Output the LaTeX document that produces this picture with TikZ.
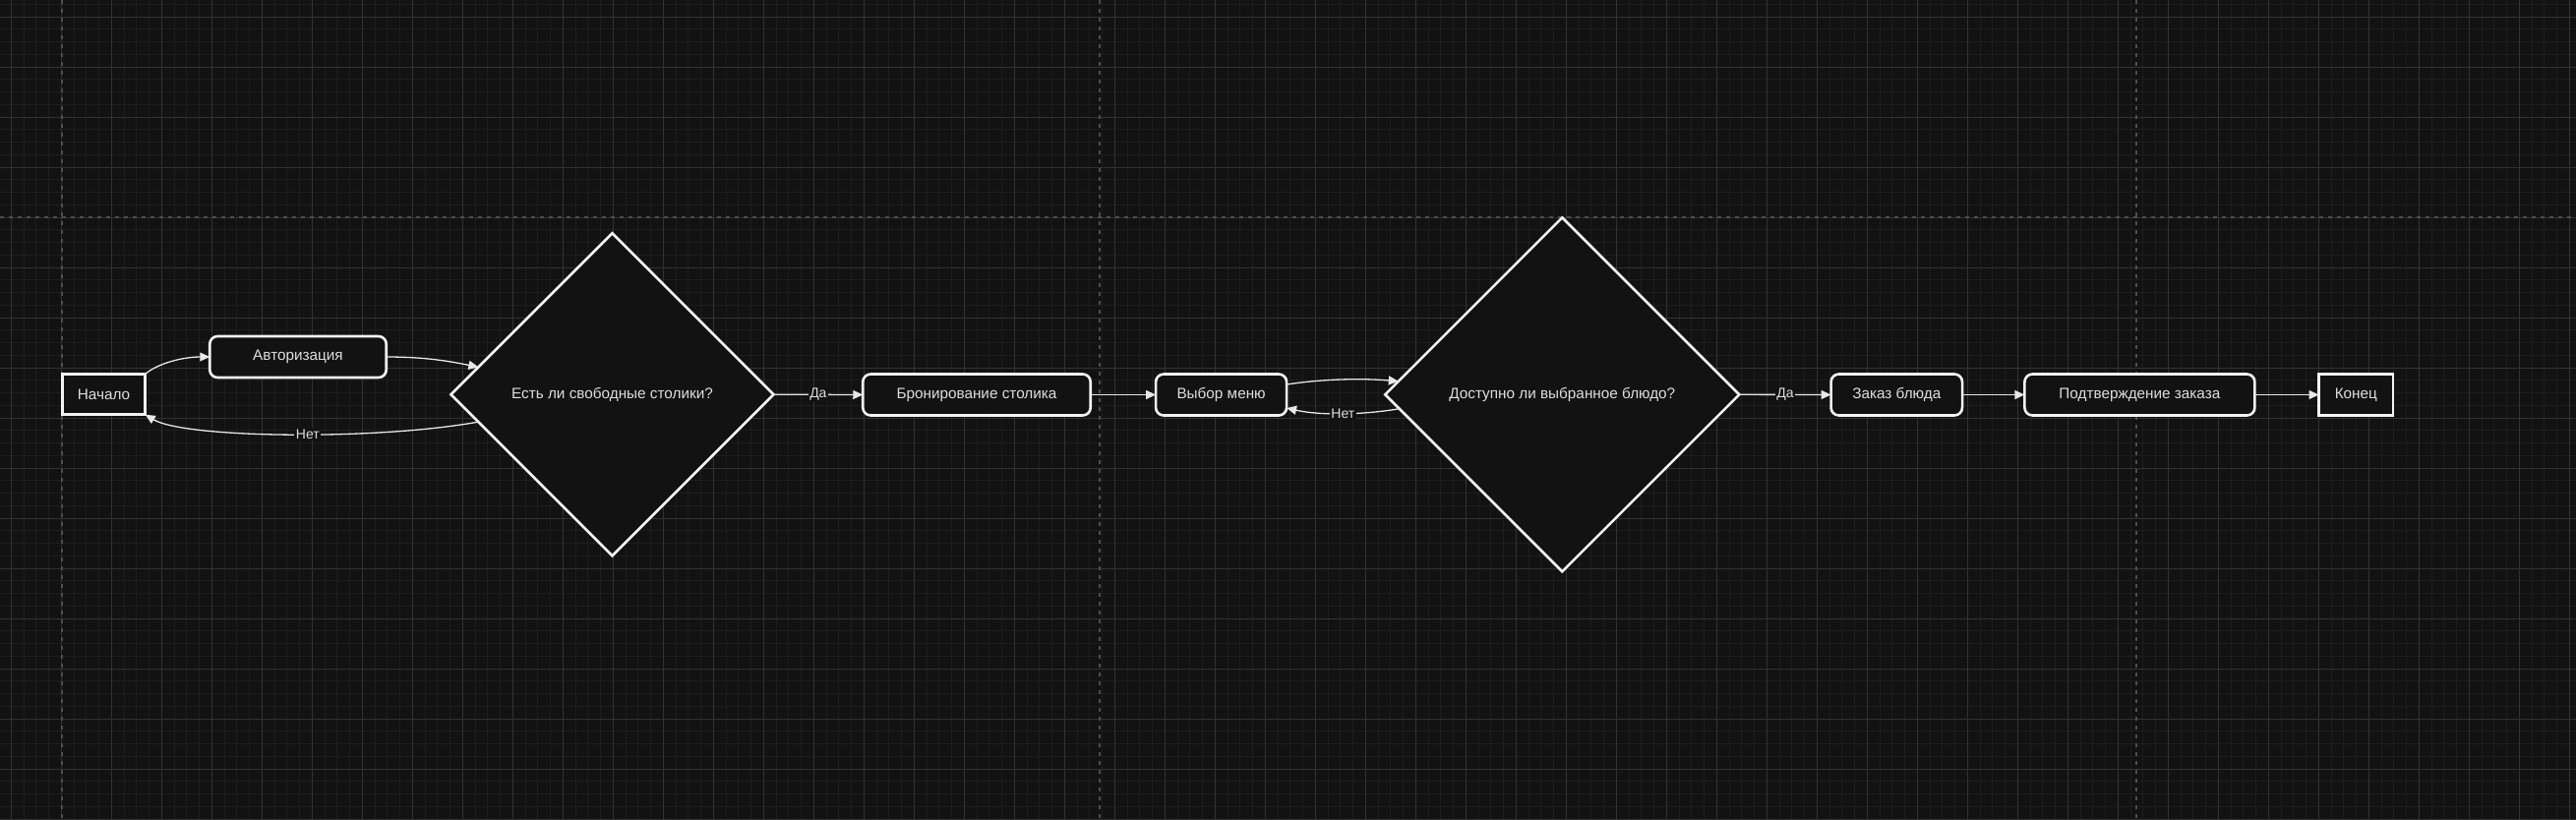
\documentclass[tikz,border=0pt]{standalone}
\usepackage{fontspec}
\setmainfont{Liberation Sans}
\usetikzlibrary{shapes.geometric,arrows.meta,calc}
\definecolor{bg}{RGB}{18,18,18}
\definecolor{gridminor}{RGB}{29,29,29}
\definecolor{gridmajor}{RGB}{50,50,50}
\definecolor{pagedash}{RGB}{78,78,78}
\definecolor{stroke}{RGB}{242,242,242}
\definecolor{txt}{RGB}{222,222,222}
\definecolor{edgecol}{RGB}{232,232,232}
\newcommand\myNodeFont{\fontsize{15.3}{18}\selectfont}
\newcommand\myLabelFont{\fontsize{14}{16}\selectfont}
\begin{document}
\begin{tikzpicture}[x=1pt,y=-1pt,
  base/.style={draw=stroke, line width=2.6pt, fill=bg, text=txt, font=\myNodeFont, inner sep=0pt, outer sep=0pt},
  term/.style={base, rectangle, minimum width=#1, minimum height=41.5pt},
  proc/.style={base, rectangle, rounded corners=8pt, minimum width=#1, minimum height=42pt},
  dec/.style={base, diamond, aspect=1, minimum width=#1, minimum height=#1},
  conn/.style={draw=edgecol, line width=1.3pt, -{Triangle[length=10pt,width=9pt]}},
  elabel/.style={fill=bg, text=txt, font=\myLabelFont, inner sep=1.5pt}
]
\useasboundingbox (0,0) rectangle (2619,833);
% background grid
\begin{scope}
\clip (0,0) rectangle (2619,833);
\fill[bg] (0,0) rectangle (2619,833);
\foreach \i in {0,...,204} \draw[gridminor, line width=1pt] ({11.3+12.75*\i},0) -- ({11.3+12.75*\i},833);
\foreach \i in {-1,...,64} \draw[gridminor, line width=1pt] (0,{17+12.75*\i}) -- (2619,{17+12.75*\i});
\foreach \i in {0,...,51} \draw[gridmajor, line width=1pt] ({11.3+51*\i},0) -- ({11.3+51*\i},833);
\foreach \i in {0,...,16} \draw[gridmajor, line width=1pt] (0,{17+51*\i}) -- (2619,{17+51*\i});
\draw[pagedash, line width=1.2pt, dash pattern=on 4pt off 5pt] (63,0) -- (63,833);
\draw[pagedash, line width=1.2pt, dash pattern=on 4pt off 5pt] (1118,0) -- (1118,833);
\draw[pagedash, line width=1.2pt, dash pattern=on 4pt off 5pt] (2172,0) -- (2172,833);
\draw[pagedash, line width=1.2pt, dash pattern=on 4pt off 5pt] (0,221) -- (2619,221);
\end{scope}

% nodes
\node[term=84.5pt] (start) at (105.5,401) {Начало};
\node[proc=179.5pt] (auth) at (303,363) {Авторизация};
\node[dec=328pt] (d1) at (622.5,401.2) {Есть ли свободные столики?};
\node[proc=231.5pt] (book) at (993,401.5) {Бронирование столика};
\node[proc=133pt] (menu) at (1241.6,401.5) {Выбор меню};
\node[dec=360pt] (d2) at (1588.3,401.3) {Доступно ли выбранное блюдо?};
\node[proc=133.5pt] (order) at (1928.3,401.5) {Заказ блюда};
\node[proc=234pt] (confirm) at (2175.4,401.5) {Подтверждение заказа};
\node[term=75.5pt] (fin) at (2395.3,401.5) {Конец};

% anchor points on diamond edges
\coordinate (d1in) at ($(d1.west)!0.17!(d1.north)$);
\coordinate (d1no) at ($(d1.west)!0.17!(d1.south)$);
\coordinate (d2in) at ($(d2.west)!0.075!(d2.north)$);
\coordinate (d2no) at ($(d2.west)!0.08!(d2.south)$);
\coordinate (menuout) at ($(menu.east)+(0,-10.5)$);
\coordinate (menuin) at ($(menu.east)+(0,13.5)$);

% connectors
\draw[conn] (start.north east) .. controls +(15,-12) and +(-25,0) .. (auth.west);
\draw[conn] (auth.east) .. controls +(40,0) and +(-30,-6) .. (d1in);
\draw[conn] (d1no) .. controls +(-105,19) and +(40,24) .. node[elabel, pos=0.45] {Нет} (start.south east);
\draw[conn] (d1.east) -- node[elabel] {Да} (book.west);
\draw[conn] (book.east) -- (menu.west);
\draw[conn] (menuout) .. controls +(40,-6) and +(-35,-3) .. (d2in);
\draw[conn] (d2no) .. controls +(-35,6) and +(35,8) .. node[elabel, pos=0.5] {Нет} (menuin);
\draw[conn] (d2.east) -- node[elabel] {Да} (order.west);
\draw[conn] (order.east) -- (confirm.west);
\draw[conn] (confirm.east) -- (fin.west);
\end{tikzpicture}
\end{document}
